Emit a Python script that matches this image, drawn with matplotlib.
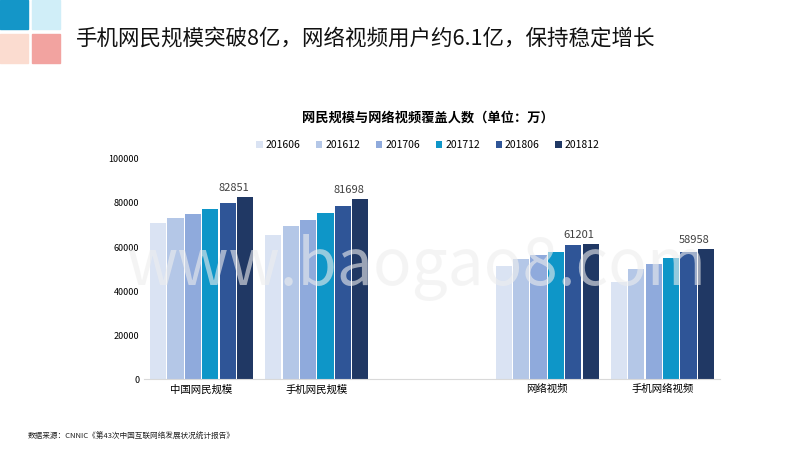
import numpy as np
import matplotlib.pyplot as plt
from matplotlib.patches import Rectangle

plt.rcParams["font.family"] = ["Noto Sans CJK SC", "DejaVu Sans"]

categories = ["中国网民规模", "手机网民规模", "", "网络视频", "手机网络视频"]
series = ["201606", "201612", "201706", "201712", "201806", "201812"]
values = [
    [71007, 73125, 75116, 77198, 80166, 82851],
    [65606, 69531, 72361, 75265, 78774, 81698],
    [0, 0, 0, 0, 0, 0],
    [51391, 54455, 56482, 57892, 60906, 61201],
    [44019, 49987, 52466, 54857, 57813, 58958],
]
colors = ["#dae3f3", "#b4c7e7", "#8faadc", "#0e96c8", "#2f5597", "#203864"]

fig = plt.figure(figsize=(8, 4.5), dpi=100)

# header decorations
for (x, y, c) in [(0, 0.935, "#1496c8"), (0.04, 0.935, "#d0eef8"),
                  (0, 0.86, "#fbdcd0"), (0.04, 0.86, "#f2a3a0")]:
    fig.patches.append(Rectangle((x, y), 0.035, 0.065, transform=fig.transFigure,
                                 color=c, zorder=0))
fig.text(0.095, 0.915, "手机网民规模突破8亿，网络视频用户约6.1亿，保持稳定增长",
         fontsize=15.5, va="center", color="#111111")

ax = fig.add_axes([0.18, 0.157, 0.72, 0.49])
n = len(series)
w = 0.14
x = np.arange(len(categories))
for i, s in enumerate(series):
    vals = [row[i] for row in values]
    ax.bar(x + (i - (n - 1) / 2) * w * 1.08, vals, w, color=colors[i], label=s)
for ci, row in enumerate(values):
    if row[-1]:
        ax.text(x[ci] + (n - 1) / 2 * w * 1.08 - 0.1, row[-1] + 1800, str(row[-1]),
                ha="center", va="bottom", fontsize=8, color="#404040")

ax.set_xlim(-0.5, len(categories) - 0.5)
ax.set_ylim(0, 100000)
ax.set_yticks(range(0, 100001, 20000))
ax.set_xticks(x)
ax.set_xticklabels(categories, fontsize=7.5)
ax.tick_params(axis="y", labelsize=6.5, length=0)
ax.tick_params(axis="x", length=0)
for sp in ["top", "right", "left"]:
    ax.spines[sp].set_visible(False)
ax.spines["bottom"].set_color("#d9d9d9")

fig.legend(loc="center", bbox_to_anchor=(0.535, 0.678), ncol=6, frameon=False,
           fontsize=7.5, handlelength=0.6, handleheight=0.6, columnspacing=1.5,
           handletextpad=0.3)
fig.text(0.535, 0.738, "网民规模与网络视频覆盖人数（单位：万）", ha="center",
         va="center", fontsize=9.5, fontweight="bold")

fig.text(0.52, 0.405, "www.baogao8.com", ha="center", va="center", fontsize=46,
         color="#eeeeee", alpha=0.6, zorder=10)
fig.text(0.035, 0.025, "数据来源：CNNIC《第43次中国互联网络发展状况统计报告》",
         fontsize=5.5, color="#222222")

fig.savefig("out.png", dpi=100)
